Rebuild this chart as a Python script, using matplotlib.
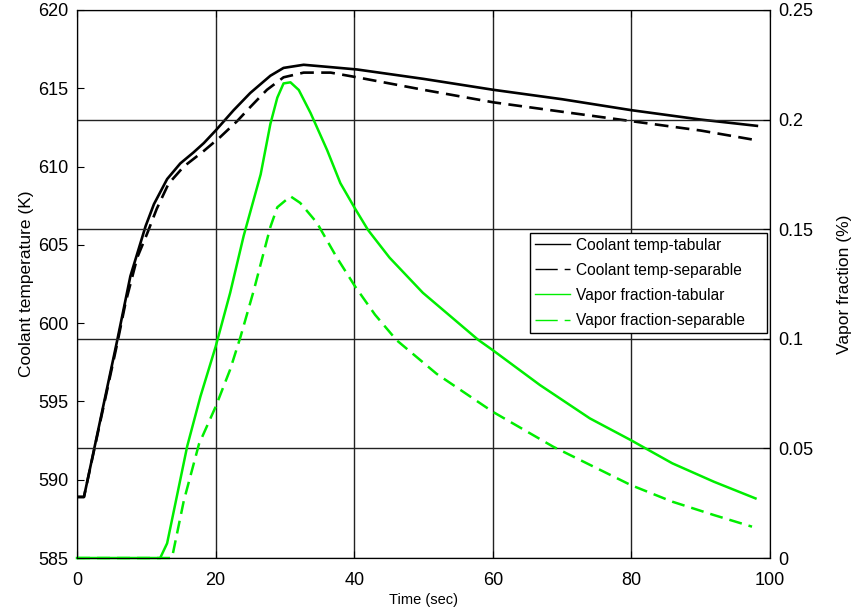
import matplotlib
matplotlib.use("Agg")
import matplotlib.pyplot as plt
from matplotlib.lines import Line2D

plt.rcParams['font.family'] = ['Liberation Sans', 'DejaVu Sans']

# coolant temperature (K)
t_temp_tab = [0, 1.0, 5.8, 7.7, 9.9, 11.1, 13.0, 14.9, 16.8, 18.3, 20.0, 22.6, 25.0, 27.9,
              29.8, 32.7, 36.6, 40.4, 50, 60.1, 70, 80, 90, 98.1]
temp_tab = [588.9, 588.9, 598.9, 603.0, 606.2, 607.6, 609.2, 610.2, 610.9, 611.5, 612.3, 613.6,
            614.7, 615.8, 616.3, 616.5, 616.35, 616.2, 615.6, 614.9, 614.3, 613.6, 613.0, 612.6]

t_temp_sep = [0, 1.0, 5.8, 7.0, 8.7, 10.1, 11.5, 13.2, 15.4, 18.3, 20.7, 23.1, 25.0, 27.4,
              29.8, 32.7, 36.6, 40.4, 50, 60.1, 70, 80, 90, 97.8]
temp_sep = [588.9, 588.9, 598.7, 601.3, 604.2, 605.7, 607.3, 608.9, 610.0, 611.0, 611.9, 612.9,
            613.8, 614.9, 615.7, 616.0, 616.0, 615.7, 614.9, 614.1, 613.5, 612.9, 612.3, 611.7]

# vapor fraction
t_vap_tab = [0, 12.0, 13.0, 14.2, 15.9, 17.8, 20.0, 22.1, 24.05, 26.5, 27.9, 28.9, 29.8, 30.8,
             32.0, 33.7, 36.1, 38.0, 40.1, 42.0, 45.1, 49.9, 57.9, 60.0, 66.8, 74.0, 79.9,
             85.9, 91.9, 97.9]
vap_tab = [0, 0, 0.0067, 0.025, 0.051, 0.0736, 0.0964, 0.121, 0.147, 0.175, 0.198, 0.21,
           0.2165, 0.217, 0.2135, 0.203, 0.186, 0.171, 0.1595, 0.1496, 0.137, 0.121, 0.0995,
           0.0948, 0.0789, 0.0637, 0.0538, 0.0432, 0.0348, 0.0272]

t_vap_sep = [0, 13.7, 15.4, 17.6, 20.0, 22.1, 23.6, 25.5, 27.9, 28.9, 30.8, 32.2, 34.6, 37.5,
             40.1, 43.0, 46.1, 51.9, 60.0, 68.7, 79.9, 85.9, 91.9, 97.4]
vap_sep = [0, 0, 0.026, 0.052, 0.069, 0.086, 0.101, 0.122, 0.151, 0.16, 0.165, 0.162, 0.153,
           0.137, 0.124, 0.111, 0.0994, 0.084, 0.0667, 0.0508, 0.0333, 0.0257, 0.0196, 0.0143]

labels = ['Coolant temp-tabular', 'Coolant temp-separable',
          'Vapor fraction-tabular', 'Vapor fraction-separable']

green = '#00ee00'

fig = plt.figure(figsize=(8.52, 6.12), dpi=100)
ax = fig.add_axes([0.0904, 0.0882, 0.8134, 0.8955])
ax2 = ax.twinx()

ax.plot(t_temp_tab, temp_tab, color='black', lw=1.9)
ax.plot(t_temp_sep, temp_sep, color='black', lw=1.9, dashes=(5.2, 2.8))
ax2.plot(t_vap_tab, vap_tab, color=green, lw=1.8, clip_on=False)
ax2.plot(t_vap_sep, vap_sep, color=green, lw=1.8, dashes=(5.2, 2.8), clip_on=False)

ax.set_xlim(0, 100)
ax.set_ylim(585, 620)
ax2.set_ylim(0, 0.25)
ax.set_xticks([0, 20, 40, 60, 80, 100])
ax.set_yticks(range(585, 621, 5))
ax2.set_yticks([0, 0.05, 0.1, 0.15, 0.2, 0.25])
ax2.set_yticklabels(['0', '0.05', '0.1', '0.15', '0.2', '0.25'])

ax.xaxis.grid(True, color='#222222', lw=1)
ax2.yaxis.grid(True, color='#222222', lw=1)
ax.tick_params(axis='x', direction='in', labelsize=13, top=True, length=5, pad=10)
ax.tick_params(axis='y', direction='in', labelsize=13, length=5, pad=6)
ax2.tick_params(direction='in', labelsize=13, length=5, pad=6)

ax.set_xlabel('Time (sec)', fontsize=10.5, labelpad=3)
ax.set_ylabel('Coolant temperature (K)', fontsize=12.5, labelpad=3)
ax2.set_ylabel('Vapor fraction (%)', fontsize=12.5, labelpad=17)

handles = [
    Line2D([], [], color='black', lw=1),
    Line2D([], [], color='black', lw=1, dashes=(16, 5)),
    Line2D([], [], color=green, lw=1),
    Line2D([], [], color=green, lw=1, dashes=(16, 5)),
]
leg = ax2.legend(handles, labels, loc='upper left', mode='expand',
                 bbox_to_anchor=(0.6537, 0.41, 0.342, 0.183),
                 borderaxespad=0, fontsize=11.2, fancybox=False, framealpha=1,
                 edgecolor='black', handlelength=2.3, handletextpad=0.35,
                 labelspacing=0.65, borderpad=0.3)
leg.get_frame().set_linewidth(1)

fig.savefig('out.png', dpi=100)
